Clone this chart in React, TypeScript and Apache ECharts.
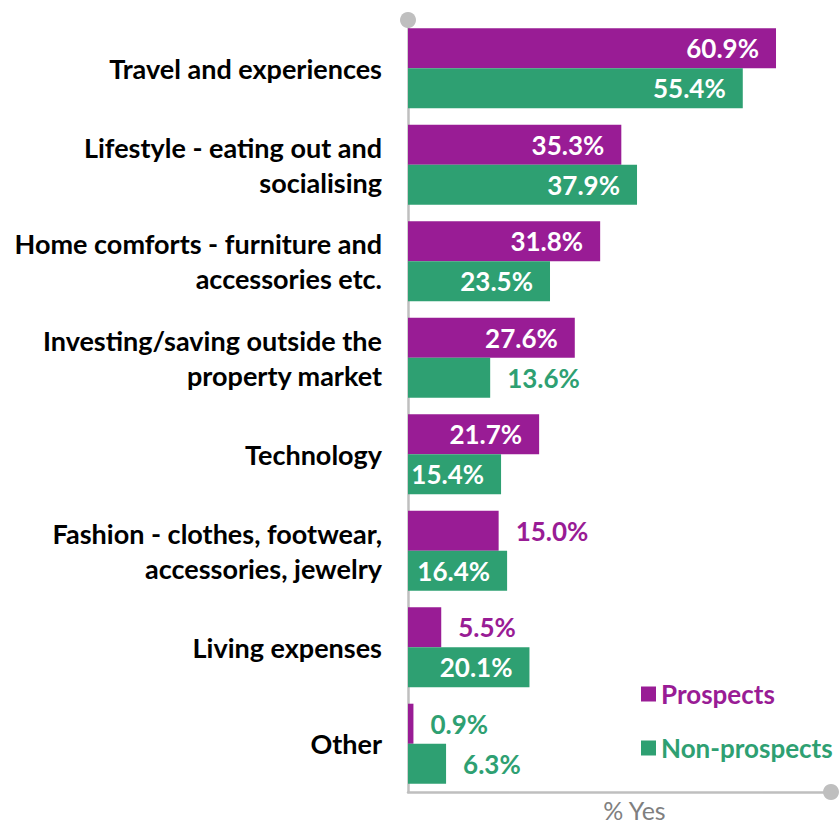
import React, { useEffect, useRef } from "react";
import * as echarts from "echarts";

const categories = [
  "Travel and experiences",
  "Lifestyle - eating out and\nsocialising",
  "Home comforts - furniture and\naccessories etc.",
  "Investing/saving outside the\nproperty market",
  "Technology",
  "Fashion - clothes, footwear,\naccessories, jewelry",
  "Living expenses",
  "Other",
];
const prospects = [60.9, 35.3, 31.8, 27.6, 21.7, 15.0, 5.5, 0.9];
const nonProspects = [55.4, 37.9, 23.5, 13.6, 15.4, 16.4, 20.1, 6.3];

const PURPLE = "#991C95";
const GREEN = "#2EA072";
const FONT = "Lato, 'Open Sans', sans-serif";

function makeData(values: number[], color: string, overrides: Record<number, string> = {}) {
  return values.map((v, i) => {
    const inside = v >= 15.2;
    return {
      value: v,
      label: inside
        ? { position: "insideRight", color: "#ffffff", distance: 17 }
        : { position: "right", color: overrides[i] || color, distance: 17 },
    };
  });
}

export default function App() {
  const ref = useRef<HTMLDivElement>(null);
  useEffect(() => {
    if (!ref.current) return;
    const chart = echarts.init(ref.current, null, { renderer: "svg" });
    const labelBase = {
      show: true,
      fontFamily: FONT,
      fontWeight: "bold",
      fontSize: 26,
      formatter: (p: any) => p.value.toFixed(1) + "%",
    };
    chart.setOption({
      animation: false,
      textStyle: { fontFamily: FONT },
      grid: { left: 408, top: 20, right: 9, bottom: 33, containLabel: false, outerBoundsMode: "none" },
      legend: {
        orient: "vertical",
        left: 636,
        top: 676,
        itemWidth: 15,
        itemHeight: 15,
        itemGap: 28,
        icon: "rect",
        textStyle: { fontFamily: FONT, fontWeight: "bold", fontSize: 26 },
        data: [
          { name: "Prospects", textStyle: { color: PURPLE } },
          { name: "Non-prospects", textStyle: { color: GREEN } },
        ],
      },
      xAxis: {
        type: "value",
        min: 0,
        max: 70,
        name: "% Yes",
        nameLocation: "middle",
        nameGap: 5,
        nameTextStyle: { color: "#7F7F7F", fontSize: 25, fontFamily: FONT, padding: [0, 0, 0, 30] },
        axisLabel: { show: false },
        axisTick: { show: false },
        splitLine: { show: false },
        axisLine: {
          show: true,
          lineStyle: { color: "#BFBFBF", width: 2.5 },
          symbol: ["none", "circle"],
          symbolSize: [16, 16],
        },
      },
      yAxis: {
        type: "category",
        inverse: true,
        data: categories,
        axisTick: { show: false },
        axisLine: {
          show: true,
          lineStyle: { color: "#BFBFBF", width: 2.5 },
          symbol: ["none", "circle"],
          symbolSize: [16, 16],
        },
        axisLabel: {
          margin: 26,
          color: "#000000",
          fontFamily: FONT,
          fontWeight: "bold",
          fontSize: 27,
          lineHeight: 35,
          align: "right",
        },
      },
      series: [
        {
          name: "Prospects",
          type: "bar",
          barGap: "0%",
          barCategoryGap: "17%",
          itemStyle: { color: PURPLE },
          label: labelBase,
          data: makeData(prospects, PURPLE, { 7: GREEN }),
        },
        {
          name: "Non-prospects",
          type: "bar",
          barGap: "0%",
          barCategoryGap: "17%",
          itemStyle: { color: GREEN },
          label: labelBase,
          data: makeData(nonProspects, GREEN),
        },
      ],
    });
    return () => chart.dispose();
  }, []);
  return <div ref={ref} style={{ width: 840, height: 825, position: "absolute", left: 0, top: 0 }} />;
}
